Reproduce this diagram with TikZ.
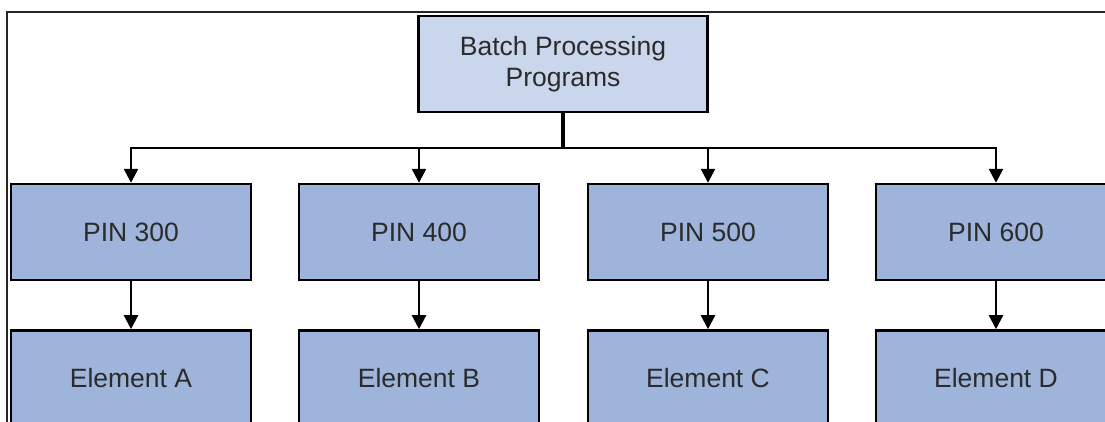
\documentclass[tikz,border=0pt]{standalone}
\usepackage{fontspec}
\setmainfont{Liberation Sans}
\usepackage{tikz}
\usetikzlibrary{arrows.meta, positioning, calc}
\definecolor{topfill}{HTML}{C9D6EB}
\definecolor{pinfill}{HTML}{9EB4DA}
\definecolor{textgrey}{HTML}{2B2B2B}
\tikzset{
    topbox/.style={rectangle, draw=black, fill=topfill, line width=2.4pt, minimum width=289pt, minimum height=96pt, text centered, text=textgrey, font=\fontsize{26.5}{31}\selectfont, align=center},
    pinbox/.style={rectangle, draw=black, fill=pinfill, line width=2.4pt, minimum width=240pt, minimum height=96pt, text centered, text=textgrey, font=\fontsize{26.5}{31}\selectfont},
    arrow/.style={line width=2.4pt, -{Triangle[length=14pt, width=14pt]}}
}

\begin{document}
\begin{tikzpicture}[x=1pt, y=-1pt]

\useasboundingbox (0,0) rectangle (1105,421);
\fill[white] (0,0) rectangle (1105,421);
\clip (0,0) rectangle (1105,421);

% Frame
\draw[line width=1.2pt, black!85] (7,430) -- (7,12) -- (1105,12);

% Nodes
\node (top) [topbox] at (563,64) {Batch Processing\\Programs};
\node (pin300) [pinbox] at (131,232) {PIN 300};
\node (pin400) [pinbox] at (419,232) {PIN 400};
\node (pin500) [pinbox] at (708,232) {PIN 500};
\node (pin600) [pinbox] at (996,232) {PIN 600};
\node (elemA) [pinbox, below=48pt of pin300] {Element A};
\node (elemB) [pinbox, below=48pt of pin400] {Element B};
\node (elemC) [pinbox, below=48pt of pin500] {Element C};
\node (elemD) [pinbox, below=48pt of pin600] {Element D};
\coordinate (bus) at (563,148);

% Arrows
\draw [line width=3.2pt] (top.south) -- (bus);
\draw [arrow] (bus) -| (pin300.north);
\draw [arrow] (bus) -| (pin400.north);
\draw [arrow] (bus) -| (pin500.north);
\draw [arrow] (bus) -| (pin600.north);
\draw [arrow] (pin300) -- (elemA);
\draw [arrow] (pin400) -- (elemB);
\draw [arrow] (pin500) -- (elemC);
\draw [arrow] (pin600) -- (elemD);

\end{tikzpicture}
\end{document}
